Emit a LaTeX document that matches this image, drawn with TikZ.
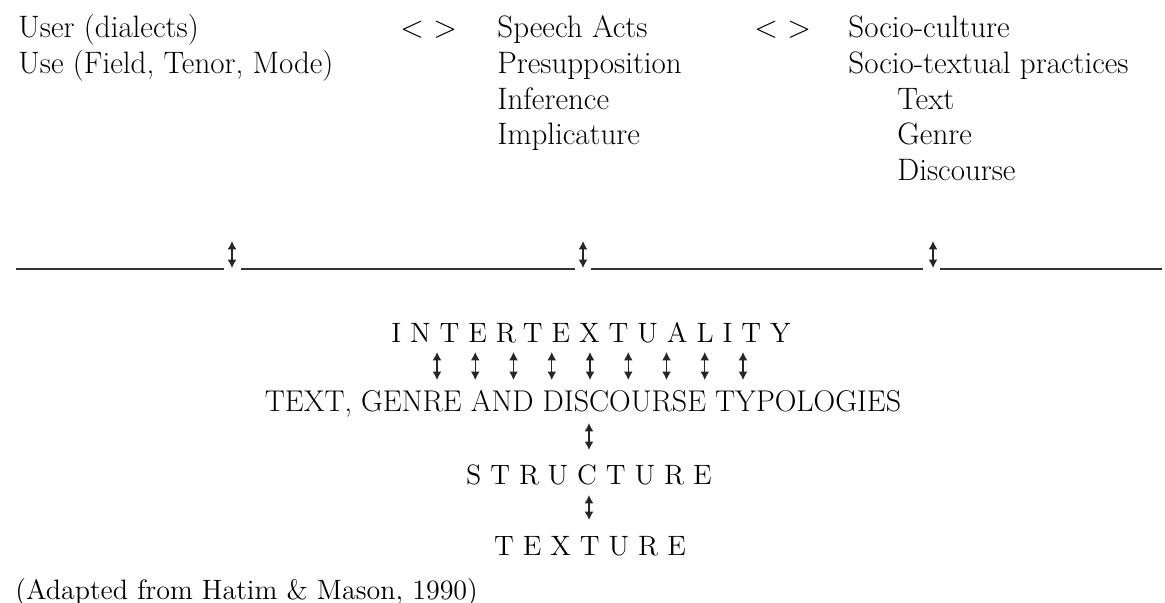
\documentclass[tikz,border=0pt]{standalone}
\usepackage{fontspec}
\setmainfont{Latin Modern Roman}
\newfontfamily\spacedfont{Latin Modern Roman}[LetterSpace=32]
\usepackage{tikz}
\usetikzlibrary{arrows.meta,positioning,calc}

\tikzset{
  lbl/.style={inner sep=0pt,anchor=base west,font=\fontsize{15.5}{18}\selectfont},
  capsline/.style={inner sep=0pt,anchor=base,font=\fontsize{15}{18}\selectfont},
  spaced/.style={inner sep=0pt,anchor=base,font=\spacedfont\fontsize{14}{17}\selectfont},
  updown/.style={{Latex[length=4.2pt,width=4.4pt]}-{Latex[length=4.2pt,width=4.4pt]},line width=0.6pt,black!85},
  divider/.style={line width=0.9pt,black!80}
}

\begin{document}
\begin{tikzpicture}[x=0.5pt,y=-0.5pt]
  \useasboundingbox (0,0) rectangle (1165,603);

  % top columns
  \node[lbl] (user) at (18,38) {User (dialects)};
  \node[lbl] (use) at (18,74) {Use (Field, Tenor, Mode)};
  \node[lbl] (ltgt1) at (400,38) {< >};
  \node[lbl] (acts) at (497,38) {Speech Acts};
  \node[lbl] (presup) at (497,74) {Presupposition};
  \node[lbl] (infer) at (497,110) {Inference};
  \node[lbl] (impl) at (497,145) {Implicature};
  \node[lbl] (ltgt2) at (754,38) {< >};
  \node[lbl] (culture) at (848,38) {Socio-culture};
  \node[lbl] (practices) at (848,74) {Socio-textual practices};
  \node[lbl] (text) at (897,110) {Text};
  \node[lbl] (genre) at (897,145) {Genre};
  \node[lbl] (disc) at (897,181) {Discourse};

  % dividing rule with arrows
  \coordinate (d0) at (16,269);  \coordinate (d1) at (224,269);
  \coordinate (d2) at (241,269); \coordinate (d3) at (575,269);
  \coordinate (d4) at (591,269); \coordinate (d5) at (923,269);
  \coordinate (d6) at (940,269); \coordinate (d7) at (1162,269);
  \draw[divider] (d0) -- (d1) (d2) -- (d3) (d4) -- (d5) (d6) -- (d7);
  \foreach \n/\x in {1/232,2/583,3/933}{
    \coordinate (up\n) at (\x,241);
    \coordinate (dn\n) at (\x,268);
    \draw[updown] (up\n) -- (dn\n);
  }

  % lower stack
  \node[spaced] (inter) at (591,343) {INTERTEXTUALITY};
  \node[capsline] (typo) at (583,412) {TEXT, GENRE AND DISCOURSE TYPOLOGIES};
  \node[spaced] (struct) at (589,484) {STRUCTURE};
  \node[spaced] (texture) at (590,555) {TEXTURE};
  \foreach \i in {0,...,8}{
    \coordinate (c\i) at (437+38.25*\i,0);
    \draw[updown] ($(inter.base -| c\i)+(0,9)$) -- ($(typo.base -| c\i)+(0,-32)$);
  }
  \coordinate (mid) at (589,0);
  \draw[updown] ($(typo.base -| mid)+(0,11)$) -- ($(struct.base -| mid)+(0,-34)$);
  \draw[updown] ($(struct.base -| mid)+(0,11)$) -- ($(texture.base -| mid)+(0,-35)$);

  \node[lbl,font=\fontsize{14}{17}\selectfont] (source) at (15,599) {(Adapted from Hatim \& Mason, 1990)};
\end{tikzpicture}
\end{document}
